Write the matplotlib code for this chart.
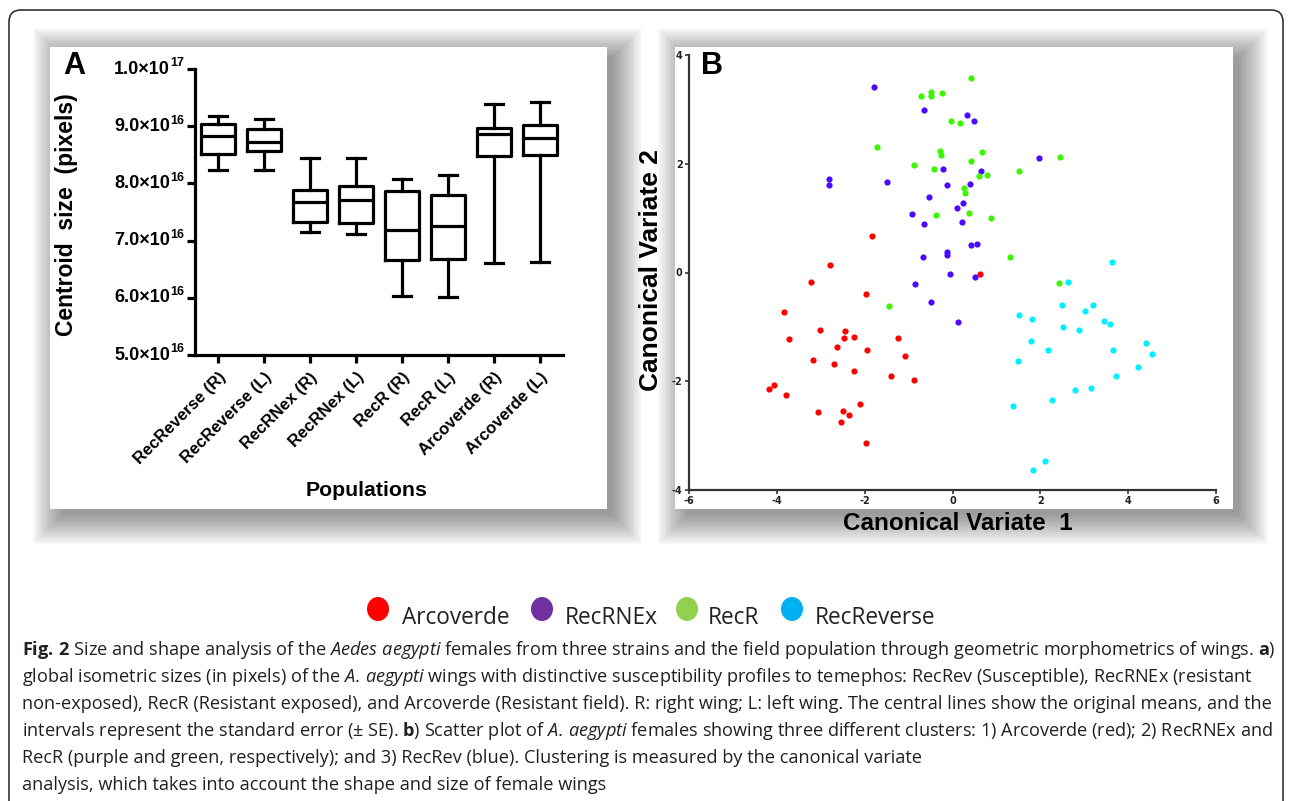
import matplotlib
matplotlib.use("Agg")
import matplotlib.pyplot as plt
from matplotlib.patches import Rectangle, Ellipse, FancyBboxPatch

plt.rcParams['axes.unicode_minus'] = False
plt.rcParams['mathtext.fontset'] = 'custom'
plt.rcParams['mathtext.rm'] = 'Open Sans'
plt.rcParams['mathtext.it'] = 'Open Sans:italic'
plt.rcParams['mathtext.bf'] = 'Open Sans:bold'

# ---- panel A data (centroid size, x1e16 pixels) ----
pop_labels = ['RecReverse (R)', 'RecReverse (L)', 'RecRNex (R)', 'RecRNex (L)',
              'RecR (R)', 'RecR (L)', 'Arcoverde (R)', 'Arcoverde (L)']
whis_low = [8.23, 8.23, 7.15, 7.11, 6.04, 6.02, 6.60, 6.62]
box_low = [8.52, 8.56, 7.33, 7.31, 6.66, 6.68, 8.48, 8.50]
box_mid = [8.82, 8.73, 7.67, 7.71, 7.19, 7.26, 8.87, 8.80]
box_high = [9.04, 8.95, 7.88, 7.96, 7.87, 7.80, 8.97, 9.02]
whis_high = [9.18, 9.12, 8.44, 8.44, 8.07, 8.14, 9.38, 9.43]
ytick_vals = [5, 6, 7, 8, 9, 10]
ytick_main = ['5.0\u00d710', '6.0\u00d710', '7.0\u00d710', '8.0\u00d710', '9.0\u00d710', '1.0\u00d710']
ytick_exp = ['16', '16', '16', '16', '16', '17']

# ---- panel B data (canonical variates) ----
arc_x = [-1.83, -2.79, 0.63, -3.23, -1.98, -3.83, -3.01, -2.45, -2.48, -2.24, -1.24, -3.73,
         -2.64, -1.95, -1.08, -3.18, -2.70, -2.25, -1.40, -0.88, -4.18, -4.07, -3.80, -2.10,
         -3.06, -2.49, -2.36, -2.55, -1.97]
arc_y = [0.67, 0.13, -0.03, -0.17, -0.40, -0.72, -1.05, -1.07, -1.20, -1.19, -1.21, -1.23,
         -1.37, -1.42, -1.53, -1.60, -1.68, -1.81, -1.90, -1.98, -2.15, -2.07, -2.26, -2.42,
         -2.57, -2.54, -2.62, -2.75, -3.13]
rnex_x = [-1.78, -0.66, -2.82, -2.82, -1.49, -0.21, -0.12, -0.53, -0.93, -0.66, 0.11, -0.67,
          -0.12, -0.13, -0.05, 0.33, 0.49, 1.97, 0.65, 0.39, 0.24, 0.22, 0.41, 0.55, 0.51,
          0.13, -0.85, -0.49]
rnex_y = [3.41, 2.98, 1.72, 1.61, 1.66, 1.91, 1.61, 1.39, 1.07, 0.90, 1.19, 0.28,
          0.37, 0.32, -0.03, 2.89, 2.78, 2.10, 1.87, 1.63, 1.28, 0.92, 0.51, 0.53, -0.09,
          -0.91, -0.22, -0.55]
recr_x = [-0.72, -0.48, -0.48, -0.23, -0.04, -1.73, -0.87, -0.41, -0.29, -0.26, -0.37, 0.41,
          0.17, 0.67, 0.42, 2.44, 0.61, 0.78, 1.52, 0.27, 0.29, 0.38, 0.88, 1.30, 2.43, -1.44]
recr_y = [3.25, 3.32, 3.25, 3.30, 2.78, 2.30, 1.97, 1.91, 2.24, 2.17, 1.05, 3.58,
          2.75, 2.21, 2.05, 2.13, 1.78, 1.80, 1.86, 1.55, 1.46, 1.10, 1.00, 0.29, -0.20, -0.61]
rev_x = [3.64, 2.63, 2.49, 3.02, 3.19, 1.51, 1.81, 3.45, 3.58, 2.51, 2.89, 1.78, 2.17,
         3.65, 4.40, 4.54, 1.49, 4.22, 3.73, 2.80, 3.15, 2.26, 1.38, 2.10, 1.84]
rev_y = [0.19, -0.18, -0.60, -0.70, -0.60, -0.78, -0.86, -0.89, -0.94, -1.00, -1.06, -1.26, -1.42,
         -1.43, -1.30, -1.50, -1.62, -1.74, -1.90, -2.16, -2.12, -2.34, -2.45, -3.47, -3.63]

legend_names = ['Arcoverde', 'RecRNEx', 'RecR', 'RecReverse']
legend_colors = ['#FF0000', '#7030A0', '#92D050', '#00B0F0']

caption = [
    r"$\mathbf{Fig.\,2}$ Size and shape analysis of the $\mathit{Aedes\ aegypti}$ females from three strains and the field population through geometric morphometrics of wings. $\mathbf{a}$)",
    r"global isometric sizes (in pixels) of the $\mathit{A.\,aegypti}$ wings with distinctive susceptibility profiles to temephos: RecRev (Susceptible), RecRNEx (resistant",
    r"non-exposed), RecR (Resistant exposed), and Arcoverde (Resistant field). R: right wing; L: left wing. The central lines show the original means, and the",
    r"intervals represent the standard error (± SE). $\mathbf{b}$) Scatter plot of $\mathit{A.\,aegypti}$ females showing three different clusters: 1) Arcoverde (red); 2) RecRNEx and",
    r"RecR (purple and green, respectively); and 3) RecRev (blue). Clustering is measured by the canonical variate",
    r"analysis, which takes into account the shape and size of female wings",
]

W, H = 1290, 801
fig = plt.figure(figsize=(12.9, 8.01), dpi=100)
bg = fig.add_axes([0, 0, 1, 1], zorder=0)
bg.set_xlim(0, W)
bg.set_ylim(H, 0)
bg.axis('off')

# outer rounded frame
bg.add_patch(FancyBboxPatch((9, 10), 1274, 900, boxstyle="round,pad=0,rounding_size=12",
                            fc='white', ec='#333333', lw=1.2))

# panel backgrounds with soft shadows (mostly to the right and below)
for (x0, y0, w, h) in [(50, 47, 557, 462), (675, 47, 558, 462)]:
    for k in range(22):
        r = k * 1.4
        bg.add_patch(Rectangle((x0 + 12 - r, y0 + 10 - r), w + 2 * r - 6, h + 2 * r - 4,
                               fc='black', ec='none', alpha=0.02))
    bg.add_patch(Rectangle((x0, y0), w, h, fc='white', ec='none'))

bold = dict(family='Liberation Sans', fontweight='bold', color='black')

# ---------------- panel A ----------------
axA = fig.add_axes([195 / W, 1 - 355 / H, 368 / W, 286 / H], zorder=2)
axA.patch.set_alpha(0)
stats = []
for i in range(len(pop_labels)):
    stats.append(dict(whislo=whis_low[i], q1=box_low[i], med=box_mid[i],
                      q3=box_high[i], whishi=whis_high[i], label=pop_labels[i]))
lp = dict(color='black', linewidth=2.3)
axA.bxp(stats, positions=range(1, 9), widths=0.72, capwidths=0.37, showfliers=False,
        boxprops=lp, medianprops=lp, whiskerprops=lp, capprops=lp)
axA.set_xlim(0.5, 8.5)
axA.set_ylim(5, 10)
for s in ['top', 'right']:
    axA.spines[s].set_visible(False)
for s in ['left', 'bottom']:
    axA.spines[s].set_linewidth(2.3)
axA.tick_params(direction='out', length=5.5, width=2.3)
axA.tick_params(axis='x', pad=5)
axA.set_yticks(ytick_vals)
axA.set_yticklabels([])
axA.set_xticks(range(1, 9))
axA.set_xticklabels(pop_labels, rotation=45, ha='right', rotation_mode='anchor',
                    fontsize=12, **bold)
for v, m, e in zip(ytick_vals, ytick_main, ytick_exp):
    axA.annotate(m, xy=(0, v), xycoords=('axes fraction', 'data'), xytext=(-18, 0),
                 textcoords='offset points', ha='right', va='center', fontsize=13, **bold)
    axA.annotate(e, xy=(0, v), xycoords=('axes fraction', 'data'), xytext=(-8, 4),
                 textcoords='offset points', ha='right', va='center', fontsize=9, **bold)

bg.text(74, 66, 'A', fontsize=22, ha='center', va='center', **bold)
bg.text(66, 215, 'Centroid  size  (pixels)', rotation=90, fontsize=16.5,
        ha='center', va='center', **bold)
bg.text(367, 490, 'Populations', fontsize=15.3, ha='center', va='center', **bold)

# ---------------- panel B ----------------
axB = fig.add_axes([689 / W, 1 - 490 / H, 527 / W, 435 / H], zorder=2)
axB.patch.set_alpha(0)
axB.scatter(arc_x, arc_y, s=20, color='#FF0000', lw=0)
axB.scatter(rnex_x, rnex_y, s=20, color='#4B0AFF', lw=0)
axB.scatter(recr_x, recr_y, s=20, color='#3DF500', lw=0)
axB.scatter(rev_x, rev_y, s=20, color='#00F0FF', lw=0)
axB.set_xlim(-6, 6)
axB.set_ylim(-4, 4)
axB.set_xticks([-6, -4, -2, 0, 2, 4, 6])
axB.set_yticks([-4, -2, 0, 2, 4])
for s in ['top', 'right']:
    axB.spines[s].set_visible(False)
for s in ['left', 'bottom']:
    axB.spines[s].set_linewidth(1.6)
    axB.spines[s].set_color('#333333')
axB.tick_params(direction='out', length=3, width=1.2, color='#333333', pad=1.5,
                labelsize=7, labelcolor='#222222')
for lab in axB.get_xticklabels() + axB.get_yticklabels():
    lab.set_fontweight('bold')

bg.text(712, 66, 'B', fontsize=22, ha='center', va='center', **bold)
bg.text(958, 523, 'Canonical Variate  1', fontsize=17.5, ha='center', va='center', **bold)
bg.text(651, 270, 'Canonical Variate 2', rotation=90, fontsize=19,
        ha='center', va='center', **bold)

# ---------------- legend ----------------
leg_circle_x = [378, 542, 687, 792]
leg_text_x = [402, 565, 708, 815]
for cx, tx, name, col in zip(leg_circle_x, leg_text_x, legend_names, legend_colors):
    bg.add_patch(Ellipse((cx, 609), 22, 24, fc=col, ec='none'))
    bg.text(tx, 624, name, fontsize=16.3, family='Open Sans', color='#222222',
            ha='left', va='baseline')

# ---------------- caption ----------------
cap_y = [655, 682, 709, 736, 763, 790]
for yy, line in zip(cap_y, caption):
    bg.text(22, yy, line, fontsize=13.1, family='Open Sans', color='#231F20',
            ha='left', va='baseline')

fig.savefig('out.png', dpi=100)
